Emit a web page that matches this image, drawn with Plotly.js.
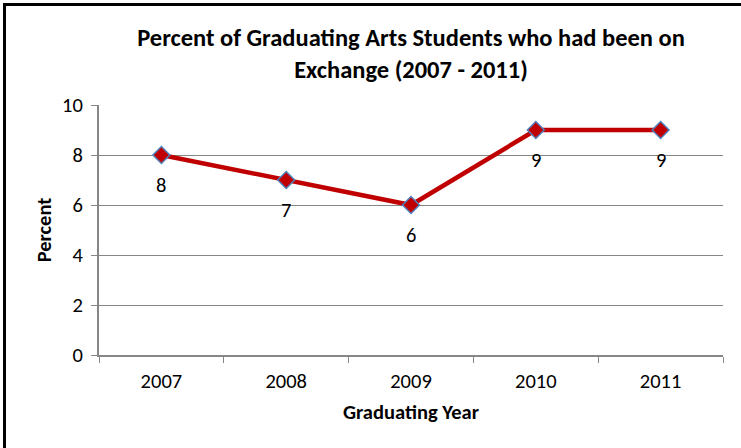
<!DOCTYPE html>
<html>
<head>
<meta charset="utf-8">
<script src="https://cdn.plot.ly/plotly-3.0.1.min.js"></script>
<style>
  html, body { margin: 0; padding: 0; background: #fff; }
  #wrap { position: relative; width: 741px; height: 448px; overflow: hidden; }
  #chart { position: absolute; left: 0; top: 0; width: 741px; height: 448px; }
  #frame { position: absolute; left: 3px; top: 3px; width: 760px; height: 470px;
           border-left: 3px solid #000; border-top: 3px solid #000; pointer-events: none; }
</style>
</head>
<body>
<div id="wrap">
  <div id="chart"></div>
  <div id="frame"></div>
</div>
<script>
const years = ["2007", "2008", "2009", "2010", "2011"];
const percent = [8, 7, 6, 9, 9];
const yTicks = [0, 2, 4, 6, 8, 10];

const FONT = "Carlito, Calibri, 'Liberation Sans Narrow', 'Open Sans', sans-serif";

const trace = {
  type: "scatter",
  mode: "lines+markers",
  x: years,
  y: percent,
  line: { color: "#C00000", width: 4.5 },
  marker: { symbol: "diamond", size: 13, color: "#C00000",
            line: { color: "#4F81BD", width: 1.5 } },
  hoverinfo: "skip"
};

const annotations = years.map((yr, i) => ({
  x: i, y: percent[i], xref: "x", yref: "y",
  text: String(percent[i]), showarrow: false,
  yshift: -30, font: { family: FONT, size: 20.5, color: "#000" }
}));

const layout = {
  width: 741, height: 448,
  margin: { l: 99, r: 18, t: 105, b: 93 },
  paper_bgcolor: "#fff", plot_bgcolor: "#fff",
  showlegend: false,
  title: {
    text: "<b>Percent of Graduating Arts Students who had been on<br>Exchange (2007 - 2011)</b>",
    x: 0.5, xanchor: "center", y: 0.898, yanchor: "middle",
    xref: "paper",
    font: { family: FONT, size: 24.5, color: "#000" }
  },
  xaxis: {
    type: "category",
    range: [-0.5, 4.5],
    tickson: "boundaries",
    ticks: "outside", ticklen: 6, tickcolor: "#868686", tickwidth: 1,
    showline: true, linecolor: "#868686", linewidth: 2,
    showgrid: false, zeroline: false,
    tickfont: { family: FONT, size: 20.5, color: "#000" },
    ticklabelstandoff: 6,
    title: { text: "<b>Graduating Year</b>", standoff: 12,
             font: { family: FONT, size: 20.5, color: "#000" } }
  },
  yaxis: {
    range: [0, 10],
    tickvals: yTicks,
    ticks: "outside", ticklen: 6, tickcolor: "#868686", tickwidth: 1,
    showline: true, linecolor: "#868686", linewidth: 2,
    showgrid: true, gridcolor: "#868686", gridwidth: 1,
    zeroline: false,
    tickfont: { family: FONT, size: 20.5, color: "#000" },
    ticklabelstandoff: 4,
    title: { text: "<b>Percent</b>", standoff: 5,
             font: { family: FONT, size: 20.5, color: "#000" } }
  },
  annotations: annotations
};

Plotly.newPlot("chart", [trace], layout, { displayModeBar: false, staticPlot: true });
</script>
</body>
</html>
